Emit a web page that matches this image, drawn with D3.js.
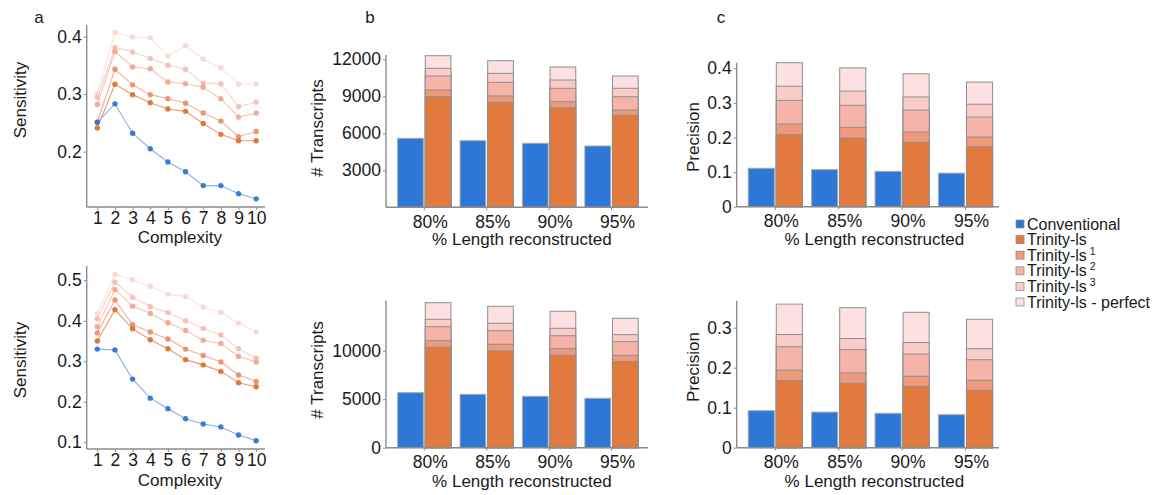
<!DOCTYPE html>
<html><head><meta charset="utf-8">
<script src="https://cdn.jsdelivr.net/npm/d3@7"></script>
<style>
html,body{margin:0;padding:0;background:#fff;}
svg{display:block;font-family:"Liberation Sans",Arial,sans-serif;}
</style></head><body>
<svg id="chart" width="1164" height="495"></svg>
<script>
// ---------- DATA ----------
const complexity = [1,2,3,4,5,6,7,8,9,10];
const seriesNames = ["Conventional","Trinity-ls","Trinity-ls 1","Trinity-ls 2","Trinity-ls 3","Trinity-ls - perfect"];

// Panel a (top): sensitivity vs complexity
const sensTopConv    = [0.251,0.283,0.232,0.205,0.182,0.165,0.141,0.141,0.127,0.118];
const sensTopLs      = [0.241,0.317,0.299,0.285,0.274,0.270,0.249,0.230,0.219,0.219];
const sensTopLs1     = [0.251,0.343,0.316,0.299,0.292,0.284,0.267,0.253,0.226,0.235];
const sensTopLs2     = [0.282,0.374,0.347,0.344,0.321,0.318,0.312,0.292,0.260,0.267];
const sensTopLs3     = [0.294,0.381,0.373,0.362,0.350,0.343,0.319,0.318,0.278,0.286];
const sensTopPerfect = [0.301,0.407,0.399,0.398,0.366,0.384,0.361,0.346,0.317,0.318];
const sensTopTicks   = [0.2,0.3,0.4];

// Panel a (bottom)
const sensBotConv    = [0.330,0.328,0.256,0.209,0.183,0.158,0.145,0.138,0.118,0.104];
const sensBotLs      = [0.350,0.427,0.380,0.353,0.331,0.304,0.291,0.275,0.247,0.237];
const sensBotLs1     = [0.370,0.451,0.390,0.372,0.355,0.330,0.314,0.298,0.266,0.250];
const sensBotLs2     = [0.385,0.477,0.436,0.418,0.395,0.376,0.352,0.344,0.312,0.298];
const sensBotLs3     = [0.405,0.495,0.458,0.435,0.420,0.400,0.381,0.365,0.331,0.308];
const sensBotPerfect = [0.418,0.514,0.501,0.485,0.465,0.460,0.434,0.421,0.394,0.372];
const sensBotTicks   = [0.1,0.2,0.3,0.4,0.5];

// Panel b / c categories
const lengthCats = ["80%","85%","90%","95%"];

// Panel b (top): # transcripts (cumulative counts)
const trTopConv    = [5595,5400,5189,4970];
const trTopLs      = [8968,8514,8076,7460];
const trTopLs1     = [9511,9024,8562,7889];
const trTopLs2     = [10646,10135,9649,8968];
const trTopLs3     = [11270,10865,10322,9649];
const trTopPerfect = [12292,11887,11376,10646];
const trTopTicks   = [3000,6000,9000,12000];

// Panel b (bottom)
const trBotConv    = [5670,5505,5299,5093];
const trBotLs      = [10351,9969,9526,8907];
const trBotLs1     = [11031,10660,10206,9526];
const trBotLs2     = [12474,12062,11546,10928];
const trBotLs3     = [13237,12825,12309,11649];
const trBotPerfect = [14948,14577,14062,13340];
const trBotTicks   = [0,5000,10000];

// Panel c (top): precision
const prTopConv    = [0.111,0.107,0.102,0.097];
const prTopLs      = [0.208,0.198,0.186,0.173];
const prTopLs1     = [0.239,0.229,0.216,0.201];
const prTopLs2     = [0.307,0.293,0.279,0.259];
const prTopLs3     = [0.348,0.334,0.317,0.296];
const prTopPerfect = [0.416,0.401,0.384,0.360];
const prTopTicks   = [0,0.1,0.2,0.3,0.4];

// Panel c (bottom)
const prBotConv    = [0.0925,0.089,0.086,0.0825];
const prBotLs      = [0.1675,0.161,0.1535,0.1435];
const prBotLs1     = [0.194,0.187,0.1785,0.1685];
const prBotLs2     = [0.2525,0.245,0.234,0.220];
const prBotLs3     = [0.283,0.273,0.263,0.2475];
const prBotPerfect = [0.359,0.350,0.3385,0.321];
const prBotTicks   = [0,0.1,0.2,0.3];

// ---------- STYLE ----------
const barColors  = ["#2E77D6","#E27A3E","#EF9A7D","#F5B4A7","#F9CCC7","#FDE0E2"];
const ptColors   = ["#2D72D2","#E0702F","#EB8D68","#F1A590","#F5BCB1","#F9D6D3"];
const lineColors = ["#8AB1E8","#EC9B70","#F2B198","#F6C3B6","#F8D2CA","#FBE3E0"];
const textCol = "#1a1a1a", axisCol = "#8c8c8c";
const tickFont = 17.5, titleFont = 17;

const svg = d3.select("#chart");
const fmtP = d => d === 0 ? "0" : d3.format(".1f")(d);

function styleTicks(a) {
  a.selectAll(".tick line").attr("stroke", axisCol);
  a.selectAll("text").attr("fill", textCol).style("font-size", tickFont + "px")
    .style("font-family", "Liberation Sans, Arial, sans-serif");
}

function yAxis(g, y, x0, ticks, fmt) {
  const ax = d3.axisLeft(y).tickValues(ticks).tickFormat(fmt).tickSize(3).tickPadding(2).tickSizeOuter(0);
  const a = g.append("g").attr("transform", `translate(${x0},0)`).call(ax);
  a.select(".domain").remove();
  styleTicks(a);
  const r = y.range();
  g.append("line").attr("x1", x0).attr("x2", x0).attr("y1", r[0]).attr("y2", r[1])
    .attr("stroke", axisCol).attr("stroke-width", 1.4);
}

function xLine(g, x0, x1, yb) {
  g.append("line").attr("x1", x0).attr("x2", x1).attr("y1", yb).attr("y2", yb)
    .attr("stroke", axisCol).attr("stroke-width", 1.4);
}

function text(g, x, y, s, opts = {}) {
  const t = g.append("text").attr("x", x).attr("y", y).text(s)
    .attr("fill", textCol).style("font-size", (opts.size || titleFont) + "px")
    .attr("text-anchor", opts.anchor || "middle").attr("dominant-baseline", "central");
  if (opts.rotate) t.attr("transform", `rotate(-90,${x},${y})`);
  return t;
}

// ---------- LINE PANELS ----------
function linePanel(cfg) {
  const g = svg.append("g");
  const x = d3.scaleLinear().domain([0.4, 10.5]).range([cfg.x0, cfg.x1]);
  const y = d3.scaleLinear().domain(cfg.yDomain).range([cfg.yb, cfg.yt]);
  yAxis(g, y, cfg.x0, cfg.ticks, d => d3.format(".1f")(d));
  xLine(g, cfg.x0, cfg.x1, cfg.yb);
  const xa = d3.axisBottom(x).tickValues(complexity).tickFormat(d3.format("d")).tickSize(3).tickPadding(2);
  const a = g.append("g").attr("transform", `translate(0,${cfg.yb})`).call(xa);
  a.select(".domain").remove();
  styleTicks(a);

  const line = d3.line().x((d, i) => x(complexity[i])).y(d => y(d));
  const order = [5,4,3,2,1,0];
  order.forEach(k => {
    const vals = cfg.series[k];
    g.append("path").datum(vals).attr("d", line).attr("fill", "none")
      .attr("stroke", lineColors[k]).attr("stroke-width", 1.1);
    g.selectAll(null).data(vals).enter().append("circle")
      .attr("cx", (d, i) => x(complexity[i])).attr("cy", d => y(d)).attr("r", 2.7)
      .attr("fill", ptColors[k]).attr("fill-opacity", 0.92);
  });
  text(g, 20, cfg.labelY, "Sensitivity", {rotate: true});
  text(g, (cfg.x0 + cfg.x1) / 2 + 4, cfg.xTitleY, "Complexity");
}

linePanel({x0: 86.7, x1: 265, yb: 207, yt: 25, yDomain: [0.1038, 0.420], ticks: sensTopTicks,
  series: [sensTopConv, sensTopLs, sensTopLs1, sensTopLs2, sensTopLs3, sensTopPerfect], labelY: 100, xTitleY: 237});
linePanel({x0: 86.7, x1: 265, yb: 449, yt: 266, yDomain: [0.0835, 0.535], ticks: sensBotTicks,
  series: [sensBotConv, sensBotLs, sensBotLs1, sensBotLs2, sensBotLs3, sensBotPerfect], labelY: 360, xTitleY: 480});

// ---------- BAR PANELS ----------
function barPanel(cfg) {
  const g = svg.append("g");
  const x = d3.scaleBand().domain(lengthCats).range([cfg.bx0, cfg.bx1]).paddingInner(0.146).paddingOuter(0.073);
  const xs = d3.scaleBand().domain(["conv","trin"]).range([0, x.bandwidth()]).paddingInner(0.07);
  const y = d3.scaleLinear().domain(cfg.yDomain).range([cfg.yb, cfg.yt]);
  yAxis(g, y, cfg.x0, cfg.ticks, cfg.fmt);

  const [conv, ls, ls1, ls2, ls3, perf] = cfg.series;
  g.selectAll(null).data(conv).enter().append("rect")
    .attr("x", (d, i) => x(lengthCats[i]) + xs("conv")).attr("width", xs.bandwidth())
    .attr("y", d => y(d)).attr("height", d => y(0) - y(d))
    .attr("fill", barColors[0]).attr("stroke", "#a8a8a8").attr("stroke-width", 1);
  [[perf,5],[ls3,4],[ls2,3],[ls1,2],[ls,1]].forEach(([vals, k]) => {
    g.selectAll(null).data(vals).enter().append("rect")
      .attr("x", (d, i) => x(lengthCats[i]) + xs("trin")).attr("width", xs.bandwidth())
      .attr("y", d => y(d)).attr("height", d => y(0) - y(d))
      .attr("fill", barColors[k]).attr("stroke", "#8f8f8f").attr("stroke-width", 1);
  });
  xLine(g, cfg.x0, cfg.xEnd, cfg.yb);
  const xa = d3.axisBottom(x).tickSize(3).tickPadding(5);
  const a = g.append("g").attr("transform", `translate(0,${cfg.yb})`).call(xa);
  a.select(".domain").remove();
  styleTicks(a);
  a.selectAll("text").attr("dx", 6);
  text(g, cfg.labelX, cfg.labelY, cfg.yTitle, {rotate: true});
  text(g, (cfg.bx0 + cfg.bx1) / 2 + 4, cfg.xTitleY, "% Length reconstructed");
}

const fmtInt = d3.format("d");
barPanel({x0: 386, xEnd: 648, bx0: 393.1, bx1: 642.7, yb: 207.3, yt: 55, yDomain: [0, 12350], ticks: trTopTicks, fmt: fmtInt,
  series: [trTopConv, trTopLs, trTopLs1, trTopLs2, trTopLs3, trTopPerfect], yTitle: "# Transcripts", labelX: 317, labelY: 128, xTitleY: 239});
barPanel({x0: 386, xEnd: 648, bx0: 393.1, bx1: 642.7, yb: 447.7, yt: 300.7, yDomain: [0, 15155], ticks: trBotTicks, fmt: fmtInt,
  series: [trBotConv, trBotLs, trBotLs1, trBotLs2, trBotLs3, trBotPerfect], yTitle: "# Transcripts", labelX: 317, labelY: 370, xTitleY: 481});
barPanel({x0: 736.7, xEnd: 999, bx0: 743.6, bx1: 997.2, yb: 206.7, yt: 62.7, yDomain: [0, 0.416], ticks: prTopTicks, fmt: fmtP,
  series: [prTopConv, prTopLs, prTopLs1, prTopLs2, prTopLs3, prTopPerfect], yTitle: "Precision", labelX: 693, labelY: 137, xTitleY: 239});
barPanel({x0: 736.7, xEnd: 999, bx0: 743.6, bx1: 997.2, yb: 447.7, yt: 300.7, yDomain: [0, 0.3675], ticks: prBotTicks, fmt: fmtP,
  series: [prBotConv, prBotLs, prBotLs1, prBotLs2, prBotLs3, prBotPerfect], yTitle: "Precision", labelX: 693, labelY: 367, xTitleY: 481});

// ---------- PANEL LETTERS ----------
text(svg, 39, 17, "a", {size: 17});
text(svg, 370, 17, "b", {size: 17});
text(svg, 721, 17, "c", {size: 17});

// ---------- LEGEND ----------
const legend = svg.append("g").attr("transform", "translate(1016,224)");
const legendLabels = [["Conventional",""],["Trinity-ls",""],["Trinity-ls","1"],["Trinity-ls","2"],["Trinity-ls","3"],["Trinity-ls - perfect",""]];
const ly = d3.scaleBand().domain(d3.range(legendLabels.length)).range([0, 15.6 * 6]);
legendLabels.forEach(([lab, sup], i) => {
  const yy = ly(i);
  legend.append("rect").attr("x", 0).attr("y", yy - 4).attr("width", 8).attr("height", 8)
    .attr("fill", barColors[i]).attr("stroke", "#8f8f8f").attr("stroke-width", 0.8);
  const t = legend.append("text").attr("x", 11).attr("y", yy + 5.5)
    .attr("fill", textCol).style("font-size", "16px").text(lab);
  if (sup) {
    const w = t.node().getComputedTextLength();
    legend.append("text").attr("x", 11 + w + 3).attr("y", yy - 0.5)
      .attr("fill", textCol).style("font-size", "10.5px").text(sup);
  }
});
</script>
</body></html>
